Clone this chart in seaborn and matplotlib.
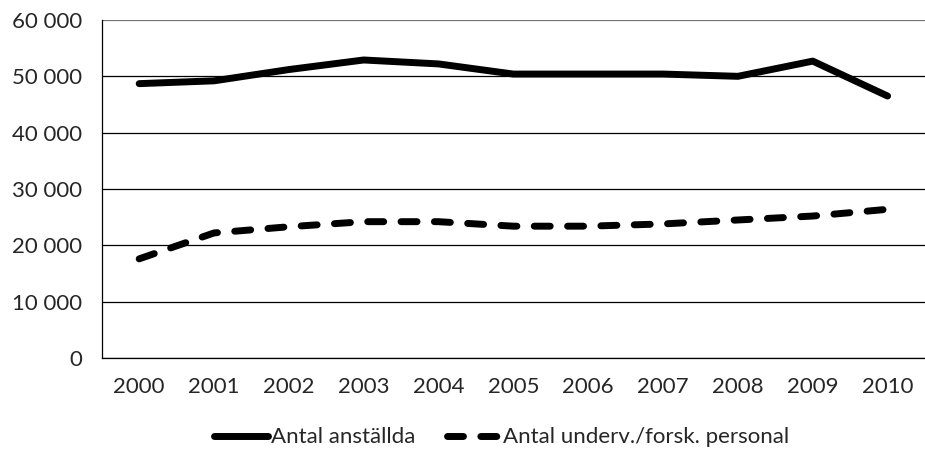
import pandas as pd
import seaborn as sns
import matplotlib.pyplot as plt
from matplotlib.ticker import FuncFormatter

# data
years = [2000, 2001, 2002, 2003, 2004, 2005, 2006, 2007, 2008, 2009, 2010]
anstallda = [48700, 49200, 51200, 52900, 52200, 50400, 50400, 50400, 50000, 52700, 46500]
underv = [17600, 22200, 23300, 24200, 24200, 23400, 23400, 23800, 24500, 25200, 26400]

df = pd.DataFrame({'År': years, 'Antal anställda': anstallda,
                   'Antal underv./forsk. personal': underv})

sns.set_style('white')
plt.rcParams['font.family'] = ['Lato', 'DejaVu Sans']

fig = plt.figure(figsize=(9.25, 4.5), dpi=100)
ax = fig.add_axes([0.110, 0.2044, 0.890, 0.7512])

sns.lineplot(data=df, x='År', y='Antal anställda', ax=ax, color='black',
             linewidth=5, solid_capstyle='round', label='Antal anställda')
sns.lineplot(data=df, x='År', y='Antal underv./forsk. personal', ax=ax,
             color='black', linewidth=5, label='Antal underv./forsk. personal')
ax.lines[1].set_dashes([2.3, 2.5])
ax.lines[1].set_dash_capstyle('round')

ax.set_xlim(1999.5, 2010.5)
ax.set_ylim(0, 60000)
ax.set_yticks(range(0, 60001, 10000))
ax.set_xticks(years)
ax.yaxis.set_major_formatter(FuncFormatter(lambda v, p: f'{int(v):,}'.replace(',', ' ')))
ax.grid(axis='y', color='black', linewidth=0.9)
ax.get_ygridlines()[-1].set_color('#777777')
ax.set_axisbelow(True)
ax.set_xlabel('')
ax.set_ylabel('')
ax.tick_params(axis='both', length=0, labelsize=16)
ax.tick_params(axis='x', pad=14)
ax.tick_params(axis='y', pad=14)
for s in ['top', 'right']:
    ax.spines[s].set_visible(False)
for s in ['left', 'bottom']:
    ax.spines[s].set_color('black')
    ax.spines[s].set_linewidth(0.9)

leg = ax.legend(loc='center', bbox_to_anchor=(0.486, -0.235), ncol=2, frameon=False,
                fontsize=16, handlelength=2.4, handletextpad=0.15, columnspacing=1.4)
for h in leg.get_lines():
    h.set_solid_capstyle('round')
    h.set_dash_capstyle('round')

fig.savefig('out.png', dpi=100)
